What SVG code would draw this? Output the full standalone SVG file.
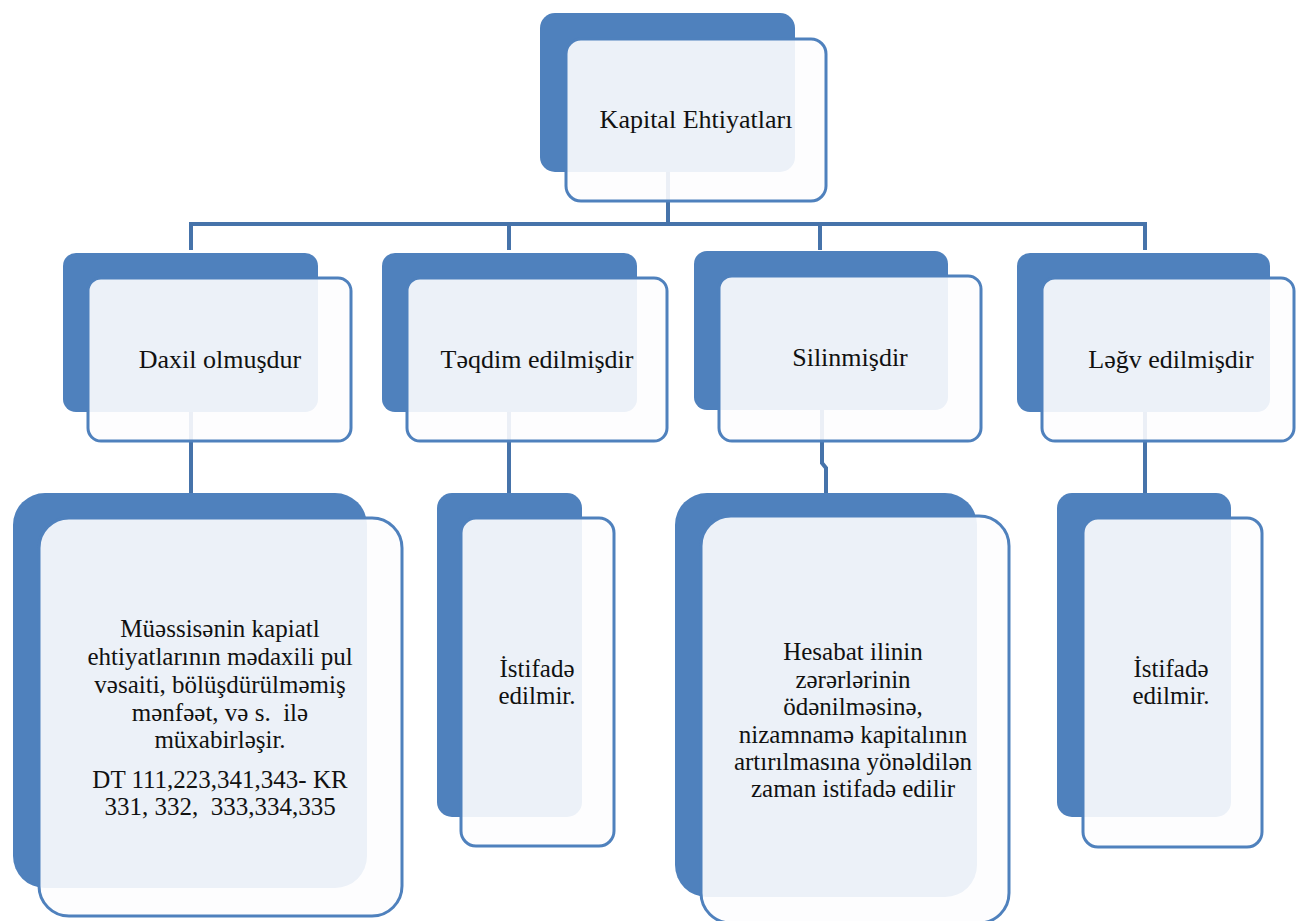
<svg xmlns="http://www.w3.org/2000/svg" width="1296" height="921" viewBox="0 0 1296 921">
  <style>
    .back { fill: #4F81BD; }
    .front { fill: #FDFDFE; fill-opacity: 0.9; stroke: #4F81BD; stroke-width: 3; }
    .link { fill: none; stroke: #4673AA; stroke-width: 4; stroke-linejoin: miter; }
    .t { font-family: 'Liberation Serif', 'DejaVu Serif', serif; font-size: 26px; fill: #111; text-anchor: middle; }
    .s { font-size: 25px; }
  </style>
  <rect width="1296" height="921" fill="#FFFFFF"/>

  <!-- connectors (drawn first so the card faces sit over them) -->
  <g id="connectors">
    <path class="link" d="M668,120 V224"/>
    <path class="link" d="M191,250 V224 H1145 V250"/>
    <path class="link" d="M509,224 V250"/>
    <path class="link" d="M820,224 V250"/>
    <path class="link" d="M191,360 V495"/>
    <path class="link" d="M509,360 V495"/>
    <path class="link" d="M822,360 V463 L826,468 V495"/>
    <path class="link" d="M1145,360 V495"/>
  </g>

  <!-- top card -->
  <g id="kapital-ehtiyatlari">
    <rect class="back" x="540" y="13" width="255" height="159" rx="15"/>
    <rect class="front" x="566" y="39" width="260" height="162" rx="15"/>
    <text class="t" x="696" y="128" font-family="Liberation Serif, serif">Kapital Ehtiyatları</text>
  </g>

  <!-- second row -->
  <g id="daxil-olmusdur">
    <rect class="back" x="63" y="253" width="255" height="159" rx="13"/>
    <rect class="front" x="88" y="278" width="263" height="163" rx="13"/>
    <text class="t" x="220" y="368">Daxil olmuşdur</text>
  </g>
  <g id="teqdim-edilmisdir">
    <rect class="back" x="382" y="253" width="255" height="159" rx="13"/>
    <rect class="front" x="407" y="278" width="260" height="163" rx="13"/>
    <text class="t" x="537" y="368">Təqdim edilmişdir</text>
  </g>
  <g id="silinmisdir">
    <rect class="back" x="694" y="251" width="254" height="159" rx="13"/>
    <rect class="front" x="719" y="276" width="262" height="165" rx="13"/>
    <text class="t" x="850" y="366">Silinmişdir</text>
  </g>
  <g id="legv-edilmisdir">
    <rect class="back" x="1017" y="253" width="253" height="159" rx="13"/>
    <rect class="front" x="1042" y="278" width="252" height="163" rx="13"/>
    <text class="t" x="1171" y="368">Ləğv edilmişdir</text>
  </g>

  <!-- third row -->
  <g id="daxil-detail">
    <rect class="back" x="13" y="493" width="354" height="395" rx="32"/>
    <rect class="front" x="39" y="518" width="363" height="398" rx="30"/>
    <text class="t s" x="220" y="637">Müəssisənin kapiatl</text>
    <text class="t s" x="220" y="665">ehtiyatlarının mədaxili pul</text>
    <text class="t s" x="220" y="693">vəsaiti, bölüşdürülməmiş</text>
    <text class="t s" x="220" y="721">mənfəət, və s.&#160; ilə</text>
    <text class="t s" x="220" y="748">müxabirləşir.</text>
    <text class="t s" x="220" y="788">DT 111,223,341,343- KR</text>
    <text class="t s" x="220" y="815">331, 332,&#160; 333,334,335</text>
  </g>
  <g id="teqdim-detail">
    <rect class="back" x="437" y="493" width="145" height="324" rx="15"/>
    <rect class="front" x="461" y="518" width="153" height="328" rx="15"/>
    <text class="t s" x="537" y="677">İstifadə</text>
    <text class="t s" x="537" y="704">edilmir.</text>
  </g>
  <g id="silinmis-detail">
    <rect class="back" x="675" y="493" width="302" height="404" rx="32"/>
    <rect class="front" x="701" y="516" width="308" height="407" rx="30"/>
    <text class="t s" x="853" y="660">Hesabat ilinin</text>
    <text class="t s" x="853" y="688">zərərlərinin</text>
    <text class="t s" x="853" y="715">ödənilməsinə,</text>
    <text class="t s" x="853" y="743">nizamnamə kapitalının</text>
    <text class="t s" x="853" y="770">artırılmasına yönəldilən</text>
    <text class="t s" x="853" y="797">zaman istifadə edilir</text>
  </g>
  <g id="legv-detail">
    <rect class="back" x="1057" y="493" width="174" height="324" rx="15"/>
    <rect class="front" x="1083" y="518" width="179" height="329" rx="15"/>
    <text class="t s" x="1171" y="677">İstifadə</text>
    <text class="t s" x="1171" y="704">edilmir.</text>
  </g>
</svg>
